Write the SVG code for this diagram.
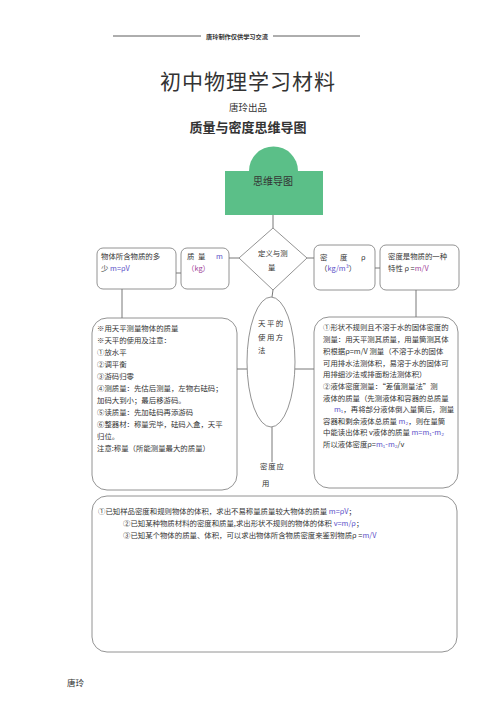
<svg xmlns="http://www.w3.org/2000/svg" width="496" height="702" viewBox="0 0 496 702">
<style>
text{font-family:"Noto Sans CJK SC","Liberation Sans",sans-serif;fill:#333}
.b{font-size:7.4px}
.box{fill:#fff;stroke:#777;stroke-width:0.8}
.ln{stroke:#555;stroke-width:0.8;fill:none}
.c{fill:#5b4fc8}
.r{fill:#a0449a}
.o{fill:#e08a2a}
</style>
<rect width="496" height="702" fill="#fff"/>
<g id="header">
<line x1="113" y1="36" x2="201" y2="36" stroke="#333" stroke-width="0.8"/>
<line x1="273" y1="36" x2="360" y2="36" stroke="#333" stroke-width="0.8"/>
<text x="237" y="38.5" font-size="6.2" font-weight="bold" text-anchor="middle">唐玲制作仅供学习交流</text>
<text x="248" y="89" font-size="21" text-anchor="middle" letter-spacing="1">初中物理学习材料</text>
<text x="248" y="110.5" font-size="9.5" text-anchor="middle">唐玲出品</text>
<text x="248" y="131.5" font-size="13" font-weight="bold" text-anchor="middle">质量与密度思维导图</text>
</g>
<g id="connectors">
<line class="ln" x1="273" y1="215" x2="273" y2="228"/>
<line class="ln" x1="229" y1="258" x2="239" y2="258"/>
<line class="ln" x1="176" y1="273" x2="181" y2="273"/>
<line class="ln" x1="307" y1="258" x2="314" y2="258"/>
<line class="ln" x1="375" y1="268" x2="380" y2="268"/>
<line class="ln" x1="122" y1="289" x2="122" y2="318"/>
<line class="ln" x1="416" y1="290" x2="416" y2="317"/>
<line class="ln" x1="273" y1="290" x2="272" y2="297"/>
<line class="ln" x1="237" y1="369" x2="247" y2="369"/>
<line class="ln" x1="295" y1="369" x2="314" y2="369"/>
<line class="ln" x1="272" y1="427" x2="272" y2="462"/>
</g>
<g id="root">
<path d="M249,171 A24.5,24.5 0 0 1 298,171 Z" fill="#5bbf88"/>
<rect x="225" y="171" width="98" height="44" fill="#5bbf88"/>
<text x="273" y="184.5" font-size="10" text-anchor="middle">思维导图</text>
</g>
<g id="define">
<polygon points="273,228 307,258 273,290 239,258" class="box"/>
<text class="b" x="258" y="256">定义与测</text>
<text class="b" x="268" y="270">量</text>
</g>
<g id="mass">
<rect class="box" x="181" y="248" width="48" height="41" rx="6"/>
<text class="b" x="187" y="259">质<tspan x="198">量</tspan><tspan class="c" x="216">m</tspan></text>
<text class="b r" x="187" y="271">（kg）</text>
</g>
<g id="mass-def">
<rect class="box" x="97" y="248" width="79" height="41" rx="6"/>
<text class="b" x="101" y="259">物体所含物质的多</text>
<text class="b" x="101" y="271">少 <tspan class="c">m=ρV</tspan></text>
</g>
<g id="density">
<rect class="box" x="314" y="245" width="61" height="45" rx="6"/>
<text class="b" x="320" y="260">密<tspan x="340">度</tspan><tspan x="361">ρ</tspan></text>
<text class="b" x="320" y="271">（<tspan class="c">kg/m³</tspan>）</text>
</g>
<g id="density-def">
<rect class="box" x="380" y="245" width="79" height="45" rx="6"/>
<text class="b" x="388" y="259">密度是物质的一种</text>
<text class="b" x="388" y="271">特性 ρ =<tspan class="r">m/V</tspan></text>
</g>
<g id="balance">
<ellipse class="box" cx="271" cy="362" rx="24" ry="65"/>
<text class="b" x="258" y="326" letter-spacing="1.5">天平的</text>
<text class="b" x="258" y="340" letter-spacing="1.5">使用方</text>
<text class="b" x="258" y="353">法</text>
</g>
<g id="balance-detail">
<rect class="box" x="92" y="318" width="145" height="172" rx="15"/>
<text class="b" x="97" y="331">※用天平测量物体的质量</text>
<text class="b" x="97" y="343">※天平的使用及注意：</text>
<text class="b" x="97" y="355">①放水平</text>
<text class="b" x="97" y="367">②调平衡</text>
<text class="b" x="97" y="379">③游码归零</text>
<text class="b" x="97" y="391">④测质量：先估后测量，左物右砝码；</text>
<text class="b" x="97" y="403">加码大到小；最后移游码。</text>
<text class="b" x="97" y="415">⑤读质量：先加砝码再添游码</text>
<text class="b" x="97" y="427">⑥整器材：称量完毕，砝码入盒，天平</text>
<text class="b" x="97" y="439">归位。</text>
<text class="b" x="97" y="451">注意:称量（所能测量最大的质量）</text>
</g>
<g id="density-measure">
<rect class="box" x="314" y="317" width="144" height="171" rx="15"/>
<text class="b" x="323" y="330">①形状不规则且不溶于水的固体密度的</text>
<text class="b" x="323" y="342">测量：用天平测其质量，用量筒测其体</text>
<text class="b" x="323" y="354">积根据ρ=m/V 测量（不溶于水的固体</text>
<text class="b" x="323" y="366">可用排水法测体积，易溶于水的固体可</text>
<text class="b" x="323" y="377">用排细沙法或排面粉法测体积）</text>
<text class="b" x="323" y="389">②液体密度测量：“差值测量法”测</text>
<text class="b" x="323" y="401">液体的质量（先测液体和容器的总质量</text>
<text class="b" x="334" y="412"><tspan class="c">m₁</tspan>，再将部分液体倒入量筒后，测量</text>
<text class="b" x="323" y="424">容器和剩余液体总质量 <tspan class="c">m₂</tspan>，则在量筒</text>
<text class="b" x="323" y="435">中能读出体积 v液体的质量 <tspan class="c">m=m₁-m₂</tspan></text>
<text class="b" x="323" y="447">所以液体密度ρ=<tspan class="c">m₁-m₂</tspan>/v</text>
</g>
<g id="application">
<text class="b" x="260" y="469" letter-spacing="0.8">密度应</text>
<text class="b" x="262" y="486">用</text>
</g>
<g id="application-detail">
<rect class="box" x="92" y="496" width="365" height="156" rx="15"/>
<text class="b" x="98" y="514">①已知样品密度和规则物体的体积，求出不易称量质量较大物体的质量 <tspan class="c">m=ρV</tspan>；</text>
<text class="b" x="123" y="526">②已知某种物质材料的密度和质量,求出形状不规则的物体的体积 <tspan class="c">v=m/ρ</tspan>；</text>
<text class="b" x="123" y="538">③已知某个物体的质量、体积，可以求出物体所含物质密度来鉴别物质ρ =<tspan class="c">m/V</tspan></text>
</g>
<g id="footer">
<text x="67" y="686" font-size="8.5">唐玲</text>
</g>
</svg>
